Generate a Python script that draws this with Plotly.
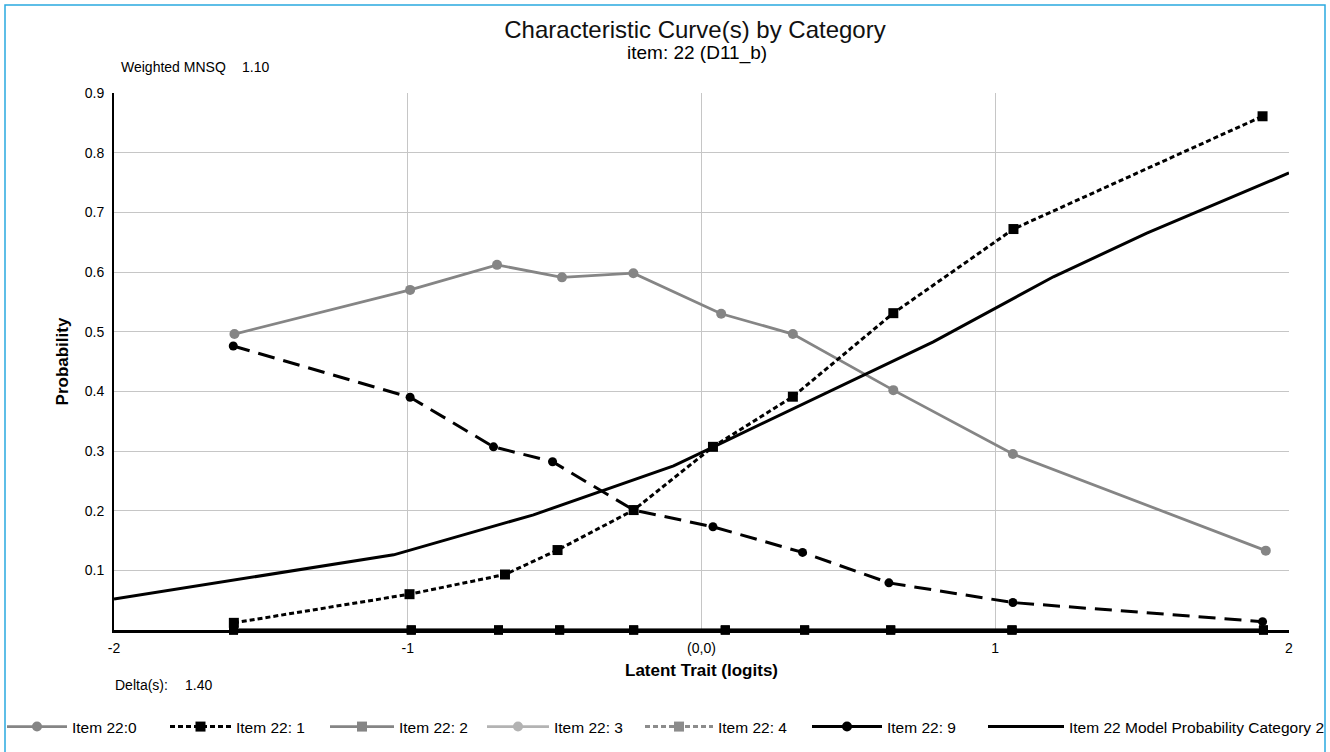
import plotly.graph_objects as go

# ---- data ----
item0_x = [-1.590, -0.992, -0.696, -0.475, -0.232, 0.067, 0.311, 0.653, 1.060, 1.921]
item0_y = [0.496, 0.570, 0.612, 0.591, 0.598, 0.530, 0.496, 0.402, 0.295, 0.133]

item1_x = [-1.592, -0.994, -0.669, -0.490, -0.231, 0.039, 0.311, 0.653, 1.062, 1.910]
item1_y = [0.012, 0.060, 0.093, 0.134, 0.201, 0.307, 0.391, 0.531, 0.672, 0.861]

item9_x = [-1.594, -0.992, -0.708, -0.507, -0.231, 0.039, 0.344, 0.638, 1.060, 1.910]
item9_y = [0.476, 0.390, 0.307, 0.282, 0.201, 0.173, 0.130, 0.079, 0.046, 0.014]

zero_x = [-1.593, -0.988, -0.691, -0.483, -0.231, 0.081, 0.351, 0.644, 1.057, 1.913]
item2_y = [0, 0, 0, 0, 0, 0, 0, 0, 0, 0]
item3_y = [0, 0, 0, 0, 0, 0, 0, 0, 0, 0]
item4_y = [0, 0, 0, 0, 0, 0, 0, 0, 0, 0]

model_x = [-2.0, -1.048, -0.572, -0.095, 0.041, 0.789, 1.198, 1.516, 2.0]
model_y = [0.052, 0.126, 0.193, 0.275, 0.307, 0.483, 0.592, 0.665, 0.766]

x_tickvals = [-2, -1, 0, 1, 2]
x_ticktext = ["-2", "-1", "(0,0)", "1", "2"]
y_tickvals = [0.1, 0.2, 0.3, 0.4, 0.5, 0.6, 0.7, 0.8, 0.9]
y_ticktext = ["0.1", "0.2", "0.3", "0.4", "0.5", "0.6", "0.7", "0.8", "0.9"]

names = ["Item 22:0", "Item 22: 1", "Item 22: 2", "Item 22: 3", "Item 22: 4",
         "Item 22: 9", "Item 22 Model Probability Category 2"]

GRAY = "#858585"
LGRAY = "#b3b3b3"
DOT = "5px,3px"
LONGDASH = "17px,9px"

L, R, T, B = 114, 41, 93, 122
W, H = 1330, 752
pw, ph = W - L - R, H - T - B

def px_x(p):
    return (p - L) / pw

def px_y(p):
    return (H - B - p) / ph

legend_ids = ["legend", "legend2", "legend3", "legend4", "legend5", "legend6", "legend7"]
legend_starts = [7, 170, 330, 487, 645, 812, 988]
legend_itemwidths = [60, 61, 64, 62, 68, 70, 76]

fig = go.Figure()

# zero-valued categories (drawn on the axis)
for ys in (item2_y, item3_y, item4_y):
    fig.add_trace(go.Scatter(x=zero_x, y=ys, mode="lines+markers", showlegend=False,
                             line=dict(color="black", width=2.5),
                             marker=dict(symbol="square", size=9, color="black"),
                             cliponaxis=False, hoverinfo="skip"))

fig.add_trace(go.Scatter(x=item0_x, y=item0_y, mode="lines+markers", name=names[0],
                         line=dict(color=GRAY, width=2.8),
                         marker=dict(symbol="circle", size=10, color=GRAY),
                         cliponaxis=False, legend=legend_ids[0]))

fig.add_trace(go.Scatter(x=model_x, y=model_y, mode="lines", name=names[6],
                         line=dict(color="black", width=3),
                         cliponaxis=False, legend=legend_ids[6]))

fig.add_trace(go.Scatter(x=item9_x, y=item9_y, mode="lines+markers", showlegend=False,
                         line=dict(color="black", width=3, dash=LONGDASH),
                         marker=dict(symbol="circle", size=9, color="black"),
                         cliponaxis=False))

fig.add_trace(go.Scatter(x=item1_x, y=item1_y, mode="lines+markers", name=names[1],
                         line=dict(color="black", width=3, dash=DOT),
                         marker=dict(symbol="square", size=10, color="black"),
                         cliponaxis=False, legend=legend_ids[1]))

# legend entries in the reference legend styles
fig.add_trace(go.Scatter(x=[None], y=[None], mode="lines+markers", name=names[2],
                         line=dict(color=GRAY, width=2.8),
                         marker=dict(symbol="square", size=10, color=GRAY), legend=legend_ids[2]))
fig.add_trace(go.Scatter(x=[None], y=[None], mode="lines+markers", name=names[3],
                         line=dict(color=LGRAY, width=2.8),
                         marker=dict(symbol="circle", size=10, color=LGRAY), legend=legend_ids[3]))
fig.add_trace(go.Scatter(x=[None], y=[None], mode="lines+markers", name=names[4],
                         line=dict(color="#8c8c8c", width=3, dash=DOT),
                         marker=dict(symbol="square", size=10, color="#8c8c8c"), legend=legend_ids[4]))
fig.add_trace(go.Scatter(x=[None], y=[None], mode="lines+markers", name=names[5],
                         line=dict(color="black", width=3),
                         marker=dict(symbol="circle", size=10, color="black"), legend=legend_ids[5]))

fig.update_layout(
    width=W, height=H,
    margin=dict(l=L, r=R, t=T, b=B, autoexpand=False),
    paper_bgcolor="white", plot_bgcolor="white",
    font=dict(family="Arial, Liberation Sans, sans-serif", color="black", size=14),
    title=dict(text="Characteristic Curve(s) by Category", x=695 / W, xanchor="center",
               xref="container", y=1 - 30 / H, yref="container", yanchor="middle",
               font=dict(size=24, color="#111111")),
    showlegend=True,
    xaxis=dict(range=[-2, 2], tickvals=x_tickvals, ticktext=x_ticktext,
               showgrid=True, gridcolor="#c6c6c6", gridwidth=1,
               showline=True, linecolor="black", linewidth=2.5,
               zeroline=False, ticks="", ticklabelstandoff=3,
               tickfont=dict(size=14),
               title=dict(text="<b>Latent Trait (logits)</b>", font=dict(size=17), standoff=10),
               fixedrange=True),
    yaxis=dict(range=[0, 0.9], tickvals=y_tickvals, ticktext=y_ticktext,
               showgrid=True, gridcolor="#c6c6c6", gridwidth=1,
               showline=True, linecolor="black", linewidth=2,
               zeroline=False, ticks="", ticklabelstandoff=5,
               tickfont=dict(size=14),
               title=dict(text="<b>Probability</b>", font=dict(size=17), standoff=12),
               fixedrange=True),
)

for lid, start, iw in zip(legend_ids, legend_starts, legend_itemwidths):
    fig.update_layout({lid: dict(orientation="h", x=px_x(start - 5), xanchor="left",
                                 y=px_y(727), yanchor="middle", font=dict(size=15.5),
                                 itemwidth=iw, bgcolor="rgba(0,0,0,0)")})

ann = [
    dict(text="item: 22 (D11_b)", x=px_x(697), y=px_y(53), font=dict(size=19), xanchor="center"),
    dict(text="Weighted MNSQ", x=px_x(119), y=px_y(67), font=dict(size=14), xanchor="left"),
    dict(text="1.10", x=px_x(240), y=px_y(67), font=dict(size=14), xanchor="left"),
    dict(text="Delta(s):", x=px_x(113), y=px_y(685), font=dict(size=14), xanchor="left"),
    dict(text="1.40", x=px_x(183), y=px_y(685), font=dict(size=14), xanchor="left"),
]
for a in ann:
    fig.add_annotation(xref="paper", yref="paper", showarrow=False, yanchor="middle",
                       **a)

# light blue frame around the whole chart
fig.add_shape(type="rect", xref="paper", yref="paper",
              x0=px_x(5), x1=px_x(1325), y0=px_y(770), y1=px_y(5),
              line=dict(color="#2aa9e0", width=1.5), fillcolor="rgba(0,0,0,0)", layer="below")

fig.write_html(
    "out.html",
    config={"displayModeBar": False},
    post_script="document.body.style.margin='0';document.body.style.overflow='hidden';",
)
